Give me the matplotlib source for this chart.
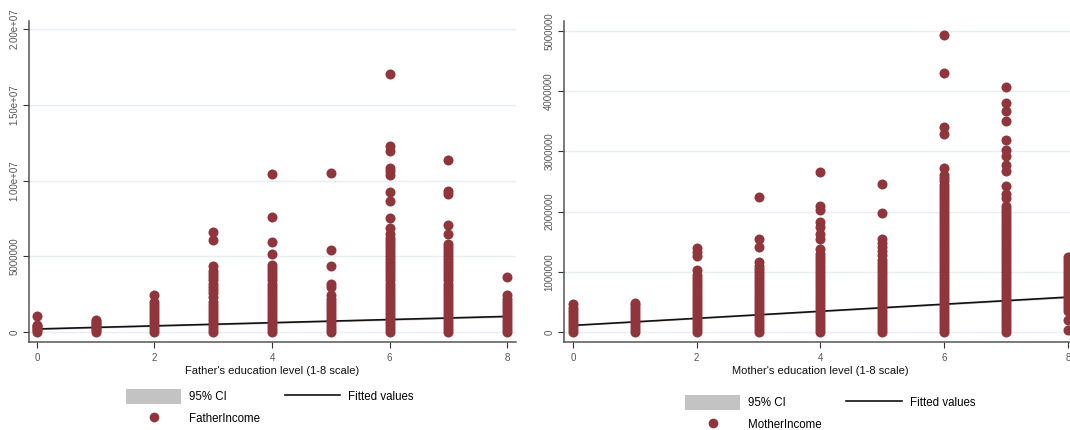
import numpy as np
import matplotlib
matplotlib.use('Agg')
import matplotlib.pyplot as plt
from matplotlib.patches import Patch
from matplotlib.lines import Line2D

plt.rcParams['font.family'] = ['Liberation Sans', 'DejaVu Sans']

# education levels on the x axis
levels = [0, 1, 2, 3, 4, 5, 6, 7, 8]

# father income per education level (millions)
father_income = [
    [0, 0.1, 0.2, 0.3, 0.4, 0.48, 1.03],
    [0, 0.1, 0.2, 0.3, 0.4, 0.5, 0.6, 0.7, 0.81],
    [0, 0.2, 0.4, 0.6, 0.8, 1.0, 1.2, 1.4, 1.6, 1.8, 1.95, 2.42],
    [0, 0.2, 0.4, 0.6, 0.8, 1.0, 1.2, 1.4, 1.6, 1.8, 2.0, 2.3, 2.6, 2.8,
     3.0, 3.2, 3.4, 3.6, 3.8, 4.05, 4.35, 6.05, 6.6],
    [0, 0.2, 0.4, 0.6, 0.8, 1.0, 1.2, 1.4, 1.6, 1.8, 2.0, 2.2, 2.4, 2.6,
     2.8, 3.0, 3.2, 3.4, 3.6, 3.8, 4.0, 4.2, 4.4, 5.15, 5.92, 7.57, 10.4],
    [0, 0.2, 0.4, 0.6, 0.8, 1.0, 1.2, 1.4, 1.6, 1.8, 2.0, 2.2, 2.45, 2.95,
     3.15, 4.33, 5.41, 10.47],
    [0, 0.2, 0.4, 0.6, 0.8, 1.0, 1.2, 1.4, 1.6, 1.8, 2.0, 2.2, 2.4, 2.6,
     2.8, 3.0, 3.2, 3.4, 3.6, 3.8, 4.0, 4.2, 4.4, 4.6, 4.8, 5.0, 5.2, 5.4,
     5.6, 5.8, 6.0, 6.2, 6.5, 6.86, 7.52, 8.62, 9.24, 10.38, 10.6, 10.85,
     11.95, 12.3, 17.05],
    [0, 0.2, 0.4, 0.6, 0.8, 1.0, 1.2, 1.4, 1.6, 1.8, 2.0, 2.2, 2.4, 2.6,
     2.8, 3.0, 3.2, 3.4, 3.6, 3.8, 4.0, 4.2, 4.4, 4.6, 4.8, 5.0, 5.2, 5.4,
     5.6, 5.8, 6.5, 7.05, 9.1, 9.3, 11.35],
    [0, 0.2, 0.4, 0.6, 0.8, 1.0, 1.2, 1.4, 1.6, 1.8, 2.0, 2.2, 2.45, 3.6],
]

# mother income per education level (millions)
mother_income = [
    [0, 0.05, 0.1, 0.15, 0.2, 0.25, 0.3, 0.35, 0.4, 0.46],
    [0, 0.05, 0.1, 0.15, 0.2, 0.25, 0.3, 0.35, 0.4, 0.45, 0.49],
    [0, 0.05, 0.1, 0.15, 0.2, 0.25, 0.3, 0.35, 0.4, 0.45, 0.5, 0.55, 0.6,
     0.65, 0.7, 0.75, 0.8, 0.85, 0.9, 0.95, 1.03, 1.27, 1.33, 1.4],
    [0, 0.05, 0.1, 0.15, 0.2, 0.25, 0.3, 0.35, 0.4, 0.45, 0.5, 0.55, 0.6,
     0.65, 0.7, 0.75, 0.8, 0.85, 0.9, 0.95, 1.0, 1.05, 1.1, 1.16, 1.41,
     1.54, 2.25],
    [0, 0.05, 0.1, 0.15, 0.2, 0.25, 0.3, 0.35, 0.4, 0.45, 0.5, 0.55, 0.6,
     0.65, 0.7, 0.75, 0.8, 0.85, 0.9, 0.95, 1.0, 1.05, 1.1, 1.15, 1.2, 1.25,
     1.3, 1.38, 1.55, 1.63, 1.75, 1.82, 2.02, 2.09, 2.66],
    [0, 0.05, 0.1, 0.15, 0.2, 0.25, 0.3, 0.35, 0.4, 0.45, 0.5, 0.55, 0.6,
     0.65, 0.7, 0.75, 0.8, 0.85, 0.9, 0.95, 1.0, 1.05, 1.1, 1.15, 1.19,
     1.28, 1.35, 1.42, 1.48, 1.54, 1.98, 2.46],
    [0, 0.05, 0.1, 0.15, 0.2, 0.25, 0.3, 0.35, 0.4, 0.45, 0.5, 0.55, 0.6,
     0.65, 0.7, 0.75, 0.8, 0.85, 0.9, 0.95, 1.0, 1.05, 1.1, 1.15, 1.2, 1.25,
     1.3, 1.35, 1.4, 1.45, 1.5, 1.55, 1.6, 1.65, 1.7, 1.75, 1.8, 1.85, 1.9,
     1.95, 2.0, 2.05, 2.1, 2.15, 2.2, 2.25, 2.3, 2.35, 2.4, 2.45, 2.5, 2.55,
     2.6, 2.72, 3.29, 3.41, 4.31, 4.94],
    [0, 0.05, 0.1, 0.15, 0.2, 0.25, 0.3, 0.35, 0.4, 0.45, 0.5, 0.55, 0.6,
     0.65, 0.7, 0.75, 0.8, 0.85, 0.9, 0.95, 1.0, 1.05, 1.1, 1.15, 1.2, 1.25,
     1.3, 1.35, 1.4, 1.45, 1.5, 1.55, 1.6, 1.65, 1.7, 1.75, 1.8, 1.85, 1.9,
     1.95, 2.0, 2.05, 2.1, 2.22, 2.29, 2.42, 2.67, 2.78, 2.93, 3.02, 3.19,
     3.5, 3.67, 3.8, 4.07],
    [0.03, 0.2, 0.35, 0.4, 0.45, 0.5, 0.55, 0.6, 0.65, 0.7, 0.75, 0.8, 0.85,
     0.9, 0.95, 1.0, 1.05, 1.1, 1.15, 1.2, 1.25],
]

# fitted values and 95% CI at x = 0 and x = 8 (millions)
fit_x = [0, 8]
father_fit = [0.2, 1.03]
father_ci_lo = [0.15, 0.97]
father_ci_hi = [0.25, 1.09]
mother_fit = [0.11, 0.58]
mother_ci_lo = [0.1, 0.565]
mother_ci_hi = [0.12, 0.595]

father_yticks = [0, 5, 10, 15, 20]
father_yticklabels = ['0', '5000000', '1.00e+07', '1.50e+07', '2.00e+07']
mother_yticks = [0, 1, 2, 3, 4, 5]
mother_yticklabels = ['0', '1000000', '2000000', '3000000', '4000000', '5000000']
xticks = [0, 2, 4, 6, 8]

DOT = '#90353b'
CI = '#c3c3c3'
W, H = 1070, 430

fig = plt.figure(figsize=(W / 100, H / 100), dpi=100)
fig.patch.set_facecolor('white')


def draw_panel(rect, income, fit, ci_lo, ci_hi, yticks, yticklabels,
               xlim, ylim, xlabel, label, legend_xy):
    ax = fig.add_axes(rect)
    ax.fill_between(fit_x, np.array(ci_lo) * 1e6, np.array(ci_hi) * 1e6,
                    color=CI, lw=0, zorder=1)
    ax.plot(fit_x, np.array(fit) * 1e6, color='#111111', lw=1.2, zorder=2)
    for lev, vals in zip(levels, income):
        ax.scatter([lev] * len(vals), np.array(vals) * 1e6, s=52, color=DOT,
                   linewidths=0, zorder=3)

    ax.set_xlim(*xlim)
    ax.set_ylim(ylim[0] * 1e6, ylim[1] * 1e6)
    ax.set_yticks(np.array(yticks) * 1e6)
    ax.set_yticklabels(yticklabels, rotation=90, va='center', fontsize=7,
                       color='#555555')
    ax.set_xticks(xticks)
    ax.set_xticklabels([str(t) for t in xticks], fontsize=7, color='#555555')
    ax.tick_params(axis='y', length=4, width=0.8, color='#333333', pad=3)
    ax.tick_params(axis='x', length=4, width=0.8, color='#333333', pad=4)
    ax.grid(axis='y', color='#e5eef0', lw=1.0)
    ax.set_axisbelow(True)
    for s in ['top', 'right']:
        ax.spines[s].set_visible(False)
    for s in ['left', 'bottom']:
        ax.spines[s].set_color('#555555')
        ax.spines[s].set_linewidth(1.1)
    ax.set_xlabel(xlabel, fontsize=8, color='#111111', labelpad=2)

    handles = [Patch(facecolor=CI, edgecolor='none'),
               Line2D([], [], marker='o', ls='none', color=DOT, markersize=7,
                      markeredgewidth=0),
               Line2D([], [], color='#111111', lw=1.2)]
    labels = ['95% CI', label, 'Fitted values']
    fig.legend(handles, labels, loc='upper left',
               bbox_to_anchor=(legend_xy[0] / W, 1 - legend_xy[1] / H),
               ncol=2, frameon=False, fontsize=8.3, borderpad=0,
               borderaxespad=0, handlelength=4.8, handleheight=1.6,
               handletextpad=0.7, columnspacing=2.1, labelspacing=0.65)
    return ax


draw_panel([29 / W, 88 / H, 487 / W, 321 / H], father_income, father_fit,
           father_ci_lo, father_ci_hi, father_yticks, father_yticklabels,
           (-0.136, 8.153), (-0.66, 20.53),
           "Father's education level (1-8 scale)", 'FatherIncome', (126, 389))

draw_panel([564 / W, 88 / H, 513 / W, 321 / H], mother_income, mother_fit,
           mother_ci_lo, mother_ci_hi, mother_yticks, mother_yticklabels,
           (-0.145, 8.145), (-0.166, 5.166),
           "Mother's education level (1-8 scale)", 'MotherIncome', (685, 395))

fig.savefig('out.png', dpi=100, facecolor='white')
